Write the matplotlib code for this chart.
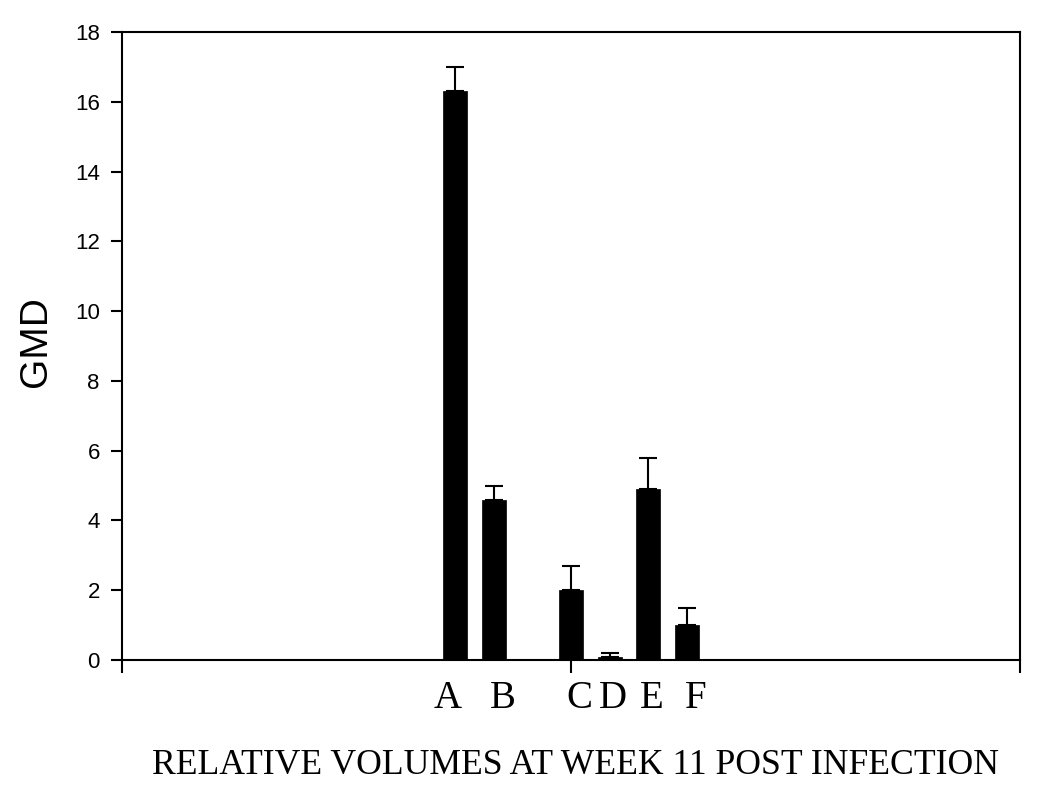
import matplotlib
matplotlib.use("Agg")
import matplotlib.pyplot as plt
import numpy as np

categories = ["A", "B", "C", "D", "E", "F"]
positions = [0.371, 0.414, 0.500, 0.543, 0.586, 0.629]
values = [16.3, 4.6, 2.0, 0.1, 4.9, 1.0]
upper_err = [0.7, 0.4, 0.7, 0.1, 0.9, 0.5]
yticks = [0, 2, 4, 6, 8, 10, 12, 14, 16, 18]

# layout: x positions (axes fraction) of the category letters
label_x = [0.363, 0.424, 0.509, 0.547, 0.590, 0.639]

fig = plt.figure(figsize=(10.5, 8.08), dpi=100)
ax = fig.add_axes([122/1050, 1 - 660/808, (1020-122)/1050, (660-32)/808])

ax.bar(positions, values, width=0.0267, color="black", edgecolor="black", linewidth=0.5)
ax.errorbar(positions, values, yerr=[np.zeros(len(values)), upper_err], fmt="none",
            ecolor="black", elinewidth=1.5, capsize=6.7, capthick=1.5)

ax.set_xlim(0, 1)
ax.set_ylim(0, 18)
ax.set_yticks(yticks)
ax.set_yticklabels([str(t) for t in yticks], fontsize=16, family="Liberation Sans")
ax.set_xticks([0, 0.5, 1])
ax.set_xticklabels([])
ax.tick_params(axis="y", direction="out", length=8, width=1.5, pad=8)
ax.tick_params(axis="x", direction="out", length=9, width=1.5)
for s in ax.spines.values():
    s.set_linewidth(1.5)

for lx, c in zip(label_x, categories):
    ax.text(lx, -(698 - 660) / 628, c, transform=ax.transAxes, ha="center", va="center",
            fontsize=28, family="Liberation Serif")

fig.text(36/1050, 1 - 342/808, "GMD", rotation=90, ha="center", va="center",
         fontsize=28, family="Liberation Sans")
fig.text(575/1050, 1 - 765/808, "RELATIVE VOLUMES AT WEEK 11 POST INFECTION",
         ha="center", va="center", fontsize=25.7, family="Liberation Serif")

fig.savefig("out.png", dpi=100)
